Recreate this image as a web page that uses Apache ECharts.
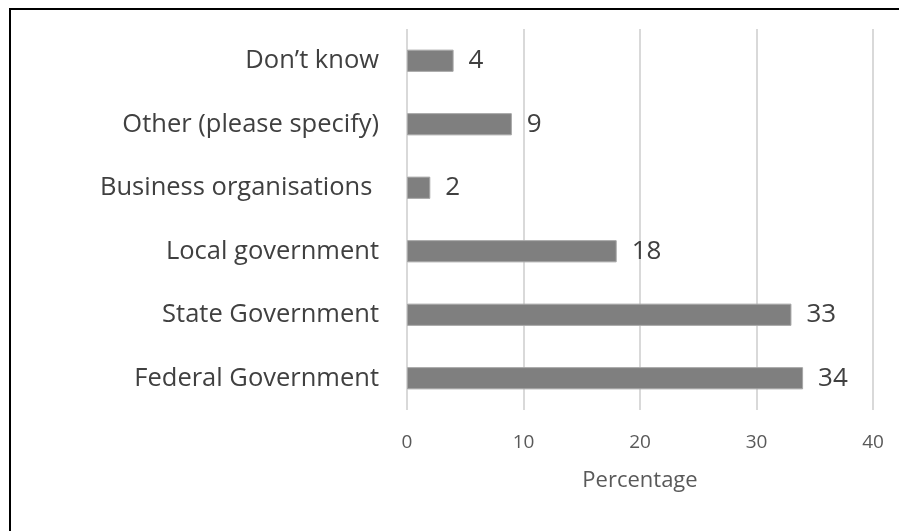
<!DOCTYPE html>
<html>
<head>
<meta charset="utf-8">
<script src="https://cdn.jsdelivr.net/npm/echarts@6/dist/echarts.min.js"></script>
<style>
  html, body { margin: 0; padding: 0; background: #fff; }
  #frame { position: absolute; left: 9px; top: 8px; width: 900px; height: 540px;
           border-left: 2px solid #000; border-top: 2px solid #000; }
  #chart { position: absolute; left: 0; top: 0; width: 899px; height: 531px; }
</style>
</head>
<body>
<div id="frame"></div>
<div id="chart"></div>
<script>
// Responses, listed bottom to top along the category axis
const categories = [
  'Federal Government',
  'State Government',
  'Local government',
  'Business organisations ',
  'Other (please specify)',
  'Don\u2019t know'
];
const percentages = [34, 33, 18, 2, 9, 4];

// Value axis ticks
const xTicks = [0, 10, 20, 30, 40];

const FONT = '"Open Sans", "DejaVu Sans", sans-serif';

const chart = echarts.init(document.getElementById('chart'), null, { renderer: 'canvas' });
chart.setOption({
  animation: false,
  backgroundColor: 'transparent',
  grid: { left: 407, right: 26, top: 29, bottom: 121, containLabel: false },
  xAxis: {
    type: 'value',
    min: xTicks[0],
    max: xTicks[xTicks.length - 1],
    interval: xTicks[1] - xTicks[0],
    name: 'Percentage',
    nameLocation: 'middle',
    nameGap: 60,
    nameTextStyle: { fontFamily: FONT, fontSize: 22, color: '#595959' },
    axisLine: { show: false },
    axisTick: { show: false },
    axisLabel: { fontFamily: FONT, fontSize: 19, color: '#595959', margin: 23 },
    splitLine: { show: true, lineStyle: { color: '#d9d9d9', width: 2 } }
  },
  yAxis: {
    type: 'category',
    data: categories,
    axisLine: { show: false },
    axisTick: { show: false },
    axisLabel: { fontFamily: FONT, fontSize: 25.5, color: '#404040', margin: 28 }
  },
  series: [{
    type: 'bar',
    data: percentages,
    barWidth: '35%',
    itemStyle: { color: '#7f7f7f', borderColor: '#a6a6a6', borderWidth: 1 },
    label: {
      show: true,
      position: 'right',
      distance: 15,
      fontFamily: FONT,
      fontSize: 26,
      color: '#404040'
    }
  }]
});
</script>
</body>
</html>
